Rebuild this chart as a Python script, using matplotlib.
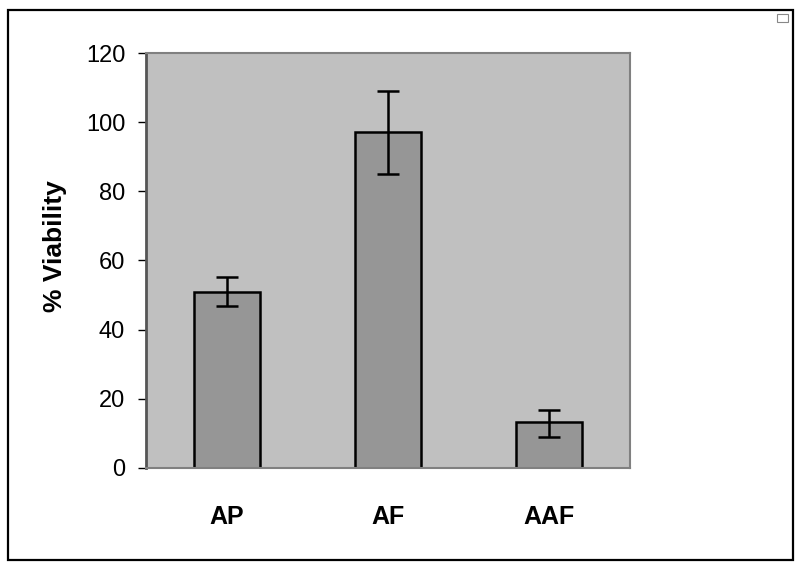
import matplotlib.pyplot as plt
from matplotlib.patches import Rectangle

categories = ['AP', 'AF', 'AAF']
viability = [51.0, 97.2, 13.2]
err_lower = [4.2, 12.2, 4.2]
err_upper = [4.2, 11.9, 3.6]

plt.rcParams['font.family'] = ['Liberation Sans', 'DejaVu Sans']

fig = plt.figure(figsize=(8, 5.7), dpi=100)
ax = fig.add_axes([0.1825, 0.179, 0.605, 0.728])

# marco exterior y la caja de leyenda vacía
fig.patches.append(Rectangle((0.01, 0.0175), 0.981, 0.965, transform=fig.transFigure,
                             fill=False, edgecolor='black', linewidth=1.6))
fig.patches.append(Rectangle((0.971, 0.961), 0.014, 0.014, transform=fig.transFigure,
                             fill=False, edgecolor='#888888', linewidth=0.8))

x = range(len(categories))
ax.set_facecolor('#c0c0c0')
ax.bar(x, viability, width=0.41, color='#969696', edgecolor='black', linewidth=1.8,
       yerr=[err_lower, err_upper], capsize=8,
       error_kw={'elinewidth': 1.8, 'capthick': 1.8, 'ecolor': 'black'})

ax.set_xlim(-0.5, 2.5)
ax.set_ylim(0, 120)
ax.set_yticks(range(0, 121, 20))
ax.set_xticks(list(x))
ax.set_xticklabels(categories, fontsize=18, fontweight='bold')
ax.tick_params(axis='x', length=0, pad=27)
ax.tick_params(axis='y', labelsize=17, length=6, width=1, direction='out', pad=9)
ax.set_ylabel('% Viability', fontsize=19, fontweight='bold')
ax.yaxis.set_label_coords(-0.163, 0.535)

for side in ['top', 'right', 'bottom']:
    ax.spines[side].set_color('#808080')
    ax.spines[side].set_linewidth(1.5)
ax.spines['left'].set_color('#555555')
ax.spines['left'].set_linewidth(2)

plt.savefig('out.png', dpi=100)
